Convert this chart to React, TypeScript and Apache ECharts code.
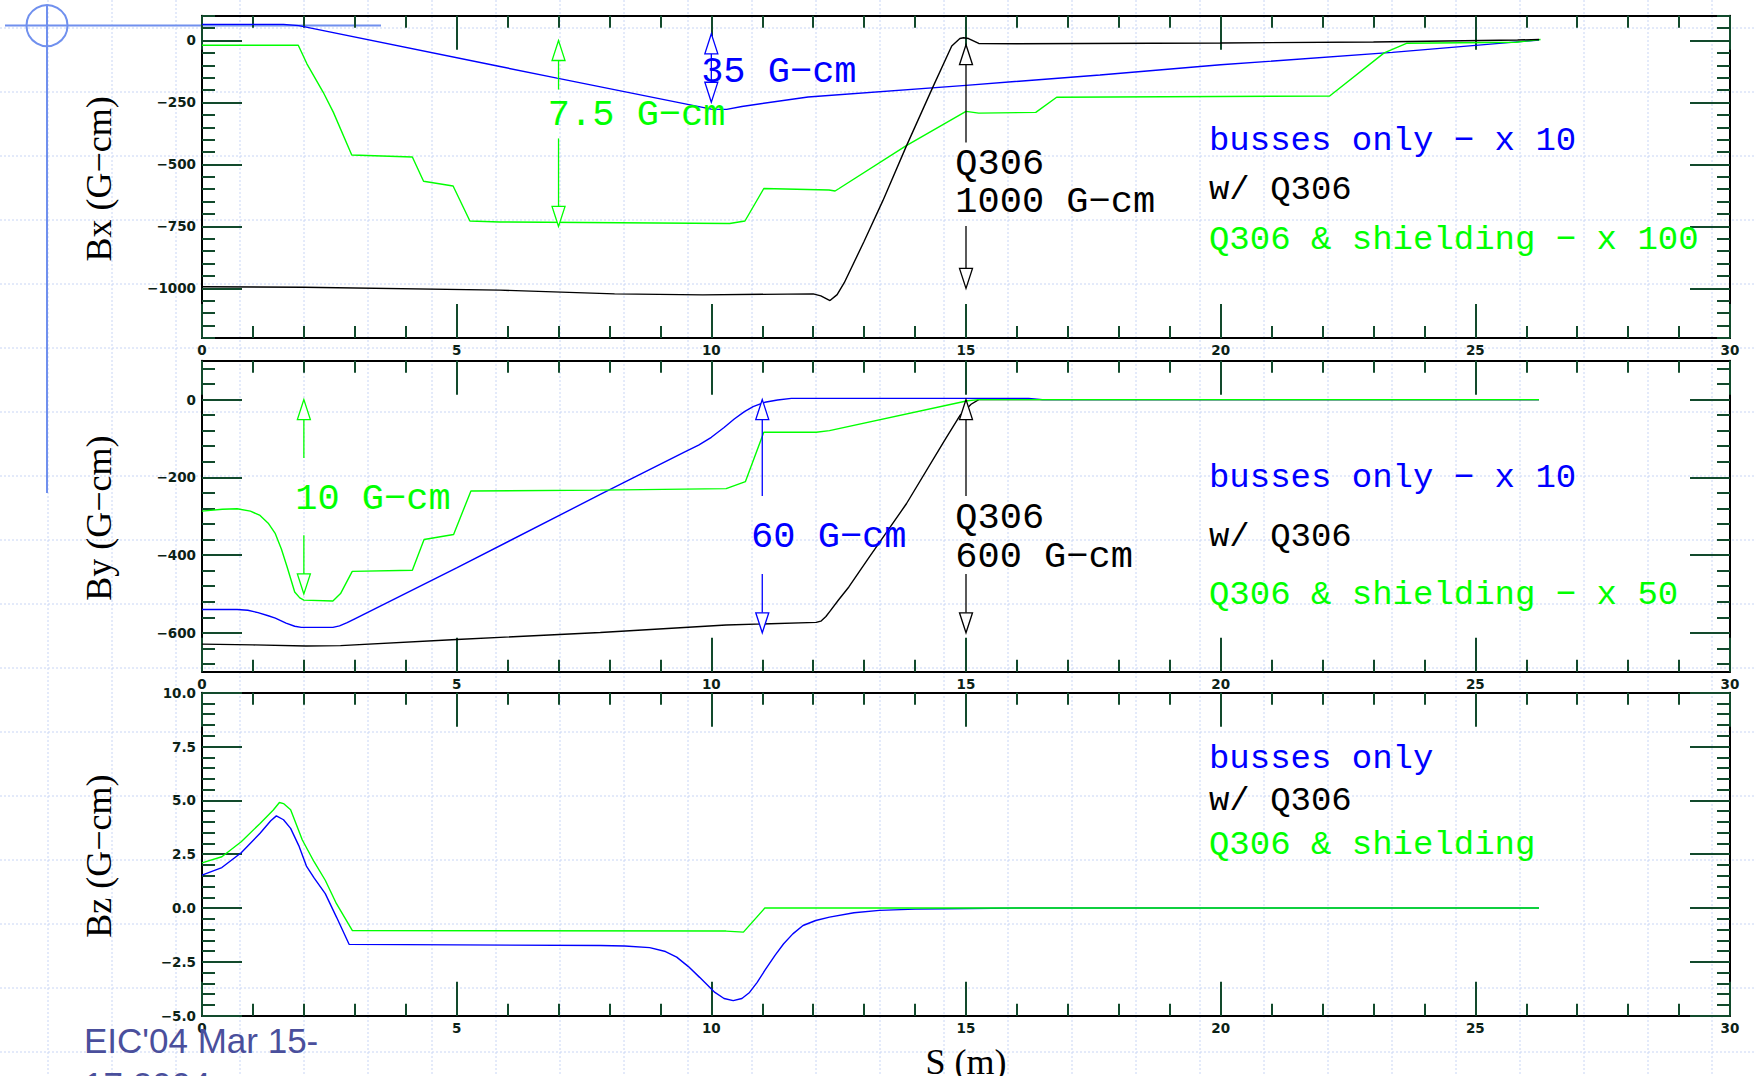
import React, { useEffect, useRef } from 'react';
import * as echarts from 'echarts';

// ---------- colours ----------
const BLUE = '#0000ff';
const GREEN = '#00ff00';
const BLACK = '#000000';
const TICK = '#124a2c';
const LABEL = '#0c2216';

// ---------- axes ----------
const sRange = [0, 30];
const sInterval = 5;
const bxRange = [-1200, 100];
const byRange = [-700, 100];
const bzRange = [-5, 10];
const bxMajorTicks = [-1000, -750, -500, -250, 0];
const byMajorTicks = [-600, -400, -200, 0];
const bzMajorTicks = [-5, -2.5, 0, 2.5, 5, 7.5, 10];
const bxMinorStep = 50;
const byMinorStep = 40;
const bzMinorStep = 0.5;

// ---------- data : [S (m), B (G-cm)] ----------
const bxBusses = [
  [0, 65], [1.6, 65], [1.9, 60], [5.85, -105], [6.97, -152], [10.0, -277], [10.3, -278],
  [10.6, -266], [11.9, -228], [15, -181], [17.63, -139], [20, -98], [23.37, -48], [26.25, 2],
];
const bxQ306 = [
  [0, -993], [2, -995], [5.85, -1007], [8.1, -1022], [9.83, -1026], [12.0, -1022], [12.15, -1030],
  [12.33, -1049], [12.47, -1025], [12.61, -977], [13.0, -810], [13.37, -645], [13.82, -430],
  [14.34, -192], [14.72, -22], [14.88, 8], [14.95, 11], [15.05, 8], [15.25, -12], [16, -13],
  [20, -10], [23, -6], [25.83, 2], [26.25, 4],
];
const bxShield = [
  [0, -19], [1.89, -19], [2.06, -94], [2.38, -209], [2.58, -290], [2.94, -462], [4.13, -470],
  [4.35, -568], [4.93, -587], [5.26, -728], [5.85, -732], [10.36, -738], [10.66, -728],
  [11.03, -597], [12.31, -603], [12.43, -607], [12.5, -598], [13.82, -425], [15, -286],
  [15.25, -293], [16.37, -290], [16.78, -229], [22.14, -224], [23.21, -50], [23.66, -11],
  [25.8, -7], [26.28, 4],
];

const byBusses = [
  [0, -540], [0.69, -540], [0.9, -542], [1.1, -548], [1.3, -556], [1.44, -562], [1.65, -575],
  [1.82, -583], [1.95, -586], [2.57, -586], [2.7, -582], [2.85, -574], [3.0, -564], [5.0, -433],
  [7.82, -244], [9.47, -135], [9.75, -117], [10.0, -97], [10.25, -72], [10.45, -50], [10.65, -31],
  [10.82, -18], [11.05, -7], [11.3, -1], [11.57, 3], [16.23, 3], [16.5, 0], [26.25, 0],
];
const byQ306 = [
  [0, -629], [1, -631], [2.04, -634], [2.72, -633], [5.0, -617], [7.82, -599], [10.29, -580],
  [12.06, -573], [12.15, -570], [12.25, -558], [12.32, -546], [12.5, -515], [12.7, -482],
  [13.08, -409], [13.83, -268], [14.58, -105], [14.88, -41], [15.1, -12], [15.25, 0], [26.25, 0],
];
const byShield = [
  [0, -287], [0.4, -282], [0.69, -281], [0.95, -287], [1.14, -298], [1.3, -318], [1.44, -345],
  [1.56, -385], [1.67, -430], [1.82, -495], [1.92, -510], [2.0, -516], [2.57, -518], [2.72, -499],
  [2.95, -442], [4.13, -439], [4.36, -360], [4.94, -347], [5.28, -235], [7.82, -233], [10.29, -229],
  [10.67, -211], [11.03, -84], [12.06, -84], [12.32, -80], [15.03, -3], [15.25, 0], [26.25, 0],
];

const bzBusses = [
  [0, 1.53], [0.39, 1.88], [0.77, 2.57], [1.14, 3.47], [1.35, 4.05], [1.46, 4.28], [1.6, 4.1],
  [1.74, 3.7], [1.9, 2.9], [2.05, 1.95], [2.2, 1.4], [2.42, 0.67], [2.64, -0.42], [2.89, -1.69],
  [7.82, -1.74], [8.3, -1.76], [8.79, -1.84], [9.1, -2.02], [9.32, -2.28], [9.55, -2.72],
  [9.77, -3.22], [10.07, -3.92], [10.25, -4.2], [10.43, -4.3], [10.6, -4.2], [10.75, -3.92],
  [10.9, -3.45], [11.05, -2.9], [11.25, -2.2], [11.42, -1.66], [11.6, -1.2], [11.8, -0.81],
  [12.05, -0.58], [12.32, -0.42], [12.8, -0.22], [13.3, -0.11], [14.0, -0.05], [14.58, -0.03],
  [16, 0], [26.25, 0],
];
const bzShield = [
  [0, 2.1], [0.39, 2.38], [0.77, 3.08], [1.14, 3.93], [1.4, 4.55], [1.52, 4.9], [1.6, 4.85],
  [1.74, 4.56], [1.97, 3.16], [2.2, 2.15], [2.42, 1.29], [2.64, 0.2], [2.95, -1.04], [10.29, -1.07],
  [10.63, -1.12], [11.05, 0], [26.25, 0],
];

// ---------- annotations (data coordinates) ----------
const arrows = [
  { p: 0, s: 7, top: 0, bottom: -750, gap: [-198, -395], color: GREEN },
  { p: 0, s: 10, top: 27, bottom: -249, gap: null, color: BLUE },
  { p: 0, s: 15, top: -17, bottom: -1000, gap: [-411, -748], color: BLACK },
  { p: 1, s: 2, top: 0, bottom: -500, gap: [-150, -349], color: GREEN },
  { p: 1, s: 11, top: 0, bottom: -600, gap: [-248, -449], color: BLUE },
  { p: 1, s: 15, top: 0, bottom: -600, gap: [-248, -449], color: BLACK },
];
const notes = [
  { p: 0, s: 6.79, v: -302, text: '7.5 G−cm', color: GREEN },
  { p: 0, s: 9.8, v: -128, text: '35 G−cm', color: BLUE },
  { p: 0, s: 14.79, v: -500, text: 'Q306', color: BLACK },
  { p: 0, s: 14.79, v: -653, text: '1000 G−cm', color: BLACK },
  { p: 1, s: 1.83, v: -255, text: '10 G−cm', color: GREEN },
  { p: 1, s: 10.78, v: -353, text: '60 G−cm', color: BLUE },
  { p: 1, s: 14.79, v: -304, text: 'Q306', color: BLACK },
  { p: 1, s: 14.79, v: -405, text: '600 G−cm', color: BLACK },
];
const legends = [
  { p: 0, s: 19.77, v: -404, text: 'busses only − x 10', color: BLUE },
  { p: 0, s: 19.77, v: -602, text: 'w/ Q306', color: BLACK },
  { p: 0, s: 19.77, v: -805, text: 'Q306 & shielding − x 100', color: GREEN },
  { p: 1, s: 19.77, v: -203, text: 'busses only − x 10', color: BLUE },
  { p: 1, s: 19.77, v: -353, text: 'w/ Q306', color: BLACK },
  { p: 1, s: 19.77, v: -503, text: 'Q306 & shielding − x 50', color: GREEN },
  { p: 2, s: 19.77, v: 6.94, text: 'busses only', color: BLUE },
  { p: 2, s: 19.77, v: 4.95, text: 'w/ Q306', color: BLACK },
  { p: 2, s: 19.77, v: 2.92, text: 'Q306 & shielding', color: GREEN },
];
const yNames = ['Bx (G−cm)', 'By (G−cm)', 'Bz (G−cm)'];
const xName = 'S (m)';

// ---------- layout ----------
const GRID_LEFT = 202;
const GRID_RIGHT = 25;
const panelLayout = [
  { top: 15.7, height: 322.3 },
  { top: 360.7, height: 311 },
  { top: 692.7, height: 323 },
];

const MONO = '"Liberation Mono", "Courier New", monospace';
const SERIF = '"Liberation Serif", "Times New Roman", serif';
const SANS = '"Liberation Sans", Arial, sans-serif';
const TICKFONT = '"DejaVu Sans", Verdana, sans-serif';

function minorList(min: number, max: number, step: number) {
  const out: number[] = [];
  for (let k = Math.ceil(min / step - 1e-9); k * step <= max + 1e-9; k++) {
    out.push(+(k * step).toFixed(6));
  }
  return out;
}

const fmtInt = (v: number) => (v < 0 ? '−' + Math.abs(v) : String(v));
const fmtDec = (v: number) => (v < 0 ? '−' + Math.abs(v).toFixed(1) : v.toFixed(1));

const panels = [
  { range: bxRange, major: bxMajorTicks, minor: minorList(bxRange[0], bxRange[1], bxMinorStep), fmt: fmtInt,
    series: [bxBusses, bxShield, bxQ306], colors: [BLUE, GREEN, BLACK] },
  { range: byRange, major: byMajorTicks, minor: minorList(byRange[0], byRange[1], byMinorStep), fmt: fmtInt,
    series: [byBusses, byQ306, byShield], colors: [BLUE, BLACK, GREEN] },
  { range: bzRange, major: bzMajorTicks, minor: minorList(bzRange[0], bzRange[1], bzMinorStep), fmt: fmtDec,
    series: [bzBusses, bzShield], colors: [BLUE, GREEN] },
];

function buildOption() {
  const grid: any[] = [];
  const xAxis: any[] = [];
  const yAxis: any[] = [];
  const series: any[] = [];
  panels.forEach((pn, g) => {
    grid.push({ left: GRID_LEFT, right: GRID_RIGHT, top: panelLayout[g].top, height: panelLayout[g].height, containLabel: false });
    ['bottom', 'top'].forEach((pos) => {
      xAxis.push({
        type: 'value', gridIndex: g, position: pos, min: sRange[0], max: sRange[1], interval: sInterval,
        axisLine: { show: true, onZero: false, lineStyle: { color: '#000', width: 2 } },
        axisTick: { show: true, inside: true, length: 34, lineStyle: { color: TICK, width: 2 } },
        minorTick: { show: true, splitNumber: 5, length: 12, lineStyle: { color: TICK, width: 2 } },
        axisLabel: {
          show: pos === 'bottom', margin: 5, fontSize: 13.5, fontWeight: 'bold', fontFamily: TICKFONT, color: LABEL,
          showMinLabel: true, showMaxLabel: true,
        },
        splitLine: { show: false }, minorSplitLine: { show: false },
      });
    });
    ['left', 'right'].forEach((pos) => {
      yAxis.push({
        type: 'value', gridIndex: g, position: pos, min: pn.range[0], max: pn.range[1],
        axisLine: { show: true, onZero: false, lineStyle: { color: '#000', width: 2 } },
        axisTick: { show: true, inside: true, length: 40, customValues: pn.major, lineStyle: { color: TICK, width: 2 } },
        axisLabel: {
          show: pos === 'left', customValues: pn.major, formatter: pn.fmt, margin: 6, fontSize: 13.5,
          fontWeight: 'bold', fontFamily: TICKFONT, color: LABEL, showMinLabel: true, showMaxLabel: true,
        },
        splitLine: { show: false },
      });
      yAxis.push({
        type: 'value', gridIndex: g, position: pos, min: pn.range[0], max: pn.range[1],
        axisLine: { show: false, onZero: false },
        axisTick: { show: true, inside: true, length: 13, customValues: pn.minor, lineStyle: { color: TICK, width: 2 } },
        axisLabel: { show: false },
        splitLine: { show: false },
      });
    });
    pn.series.forEach((d, k) => {
      series.push({
        type: 'line', xAxisIndex: 2 * g, yAxisIndex: 4 * g, data: d, showSymbol: false, symbol: 'none',
        lineStyle: { color: pn.colors[k], width: 1.4 }, z: 3 + k, silent: true,
      });
    });
  });
  return {
    animation: false,
    backgroundColor: '#ffffff',
    grid, xAxis, yAxis, series,
  };
}

function txt(x: number, y: number, text: string, fill: string, font: string, align = 'left', vAlign = 'middle', extra: any = {}) {
  return {
    type: 'text', x, y, z: 20, silent: true, ...extra,
    style: { text, fill, font, align, verticalAlign: vAlign, textAlign: align, textVerticalAlign: vAlign },
  };
}

function buildGraphics(chart: any) {
  const els: any[] = [];
  const W = 1755, H = 1076;
  const gridCol = '#c8d5f5';
  for (let x = 48; x < W; x += 64) {
    els.push({ type: 'line', z: -10, silent: true, shape: { x1: x, y1: 0, x2: x, y2: H }, style: { stroke: gridCol, lineWidth: 1, lineDash: [2, 2] } });
  }
  for (let y = 28; y < H; y += 64) {
    els.push({ type: 'line', z: -10, silent: true, shape: { x1: 0, y1: y, x2: W, y2: y }, style: { stroke: gridCol, lineWidth: 1, lineDash: [2, 2] } });
  }
  // slide ornament
  const orn = '#7090ee';
  els.push({ type: 'circle', z: -5, silent: true, shape: { cx: 47, cy: 25.6, r: 20.5 }, style: { fill: 'none', stroke: orn, lineWidth: 2 } });
  els.push({ type: 'line', z: -5, silent: true, shape: { x1: 5, y1: 25.6, x2: 381, y2: 25.6 }, style: { stroke: orn, lineWidth: 2 } });
  els.push({ type: 'line', z: -5, silent: true, shape: { x1: 47, y1: 5, x2: 47, y2: 493 }, style: { stroke: orn, lineWidth: 2 } });

  const px = (p: number, s: number, v: number) => chart.convertToPixel({ xAxisIndex: 2 * p, yAxisIndex: 4 * p }, [s, v]);

  // axis names
  yNames.forEach((n, g) => {
    const cy = panelLayout[g].top + panelLayout[g].height / 2 + 2;
    els.push(txt(99, cy, n, BLACK, `36px ${SERIF}`, 'center', 'middle', { rotation: Math.PI / 2 }));
  });
  const sx = px(2, 15, 0)[0];
  els.push(txt(sx, 1062, xName, BLACK, `36px ${SERIF}`, 'center', 'middle'));

  // arrows
  const AH = 20, AW = 6.5;
  arrows.forEach((a) => {
    const [x, yTop] = px(a.p, a.s, a.top);
    const yBot = px(a.p, a.s, a.bottom)[1];
    const ls = { stroke: a.color, lineWidth: 1.3 };
    if (a.gap) {
      const g1 = px(a.p, a.s, a.gap[0])[1];
      const g2 = px(a.p, a.s, a.gap[1])[1];
      els.push({ type: 'line', z: 18, silent: true, shape: { x1: x, y1: yTop + AH, x2: x, y2: g1 }, style: ls });
      els.push({ type: 'line', z: 18, silent: true, shape: { x1: x, y1: g2, x2: x, y2: yBot - AH }, style: ls });
    } else {
      els.push({ type: 'line', z: 18, silent: true, shape: { x1: x, y1: yTop + AH, x2: x, y2: yBot - AH }, style: ls });
    }
    els.push({ type: 'polygon', z: 19, silent: true, shape: { points: [[x, yTop], [x - AW, yTop + AH], [x + AW, yTop + AH]] }, style: { fill: '#ffffff', stroke: a.color, lineWidth: 1.3 } });
    els.push({ type: 'polygon', z: 19, silent: true, shape: { points: [[x, yBot], [x - AW, yBot - AH], [x + AW, yBot - AH]] }, style: { fill: '#ffffff', stroke: a.color, lineWidth: 1.3 } });
  });

  notes.forEach((n) => {
    const [x, y] = px(n.p, n.s, n.v);
    els.push(txt(x, y, n.text, n.color, `37px ${MONO}`));
  });
  legends.forEach((n) => {
    const [x, y] = px(n.p, n.s, n.v);
    els.push(txt(x, y, n.text, n.color, `34px ${MONO}`));
  });

  // footer
  els.push(txt(84, 1040, "EIC'04 Mar 15-", '#4a4f9c', `35px ${SANS}`, 'left', 'middle'));
  els.push(txt(84, 1084, '17 2004', '#4a4f9c', `35px ${SANS}`, 'left', 'middle'));
  return els;
}

export default function App() {
  const ref = useRef<HTMLDivElement>(null);
  useEffect(() => {
    const chart = echarts.init(ref.current as HTMLDivElement, null, { renderer: 'svg' });
    chart.setOption(buildOption() as any);
    chart.setOption({ graphic: buildGraphics(chart) } as any);
    return () => chart.dispose();
  }, []);
  return <div ref={ref} style={{ position: 'absolute', left: 0, top: 0, width: 1755, height: 1076 }} />;
}
